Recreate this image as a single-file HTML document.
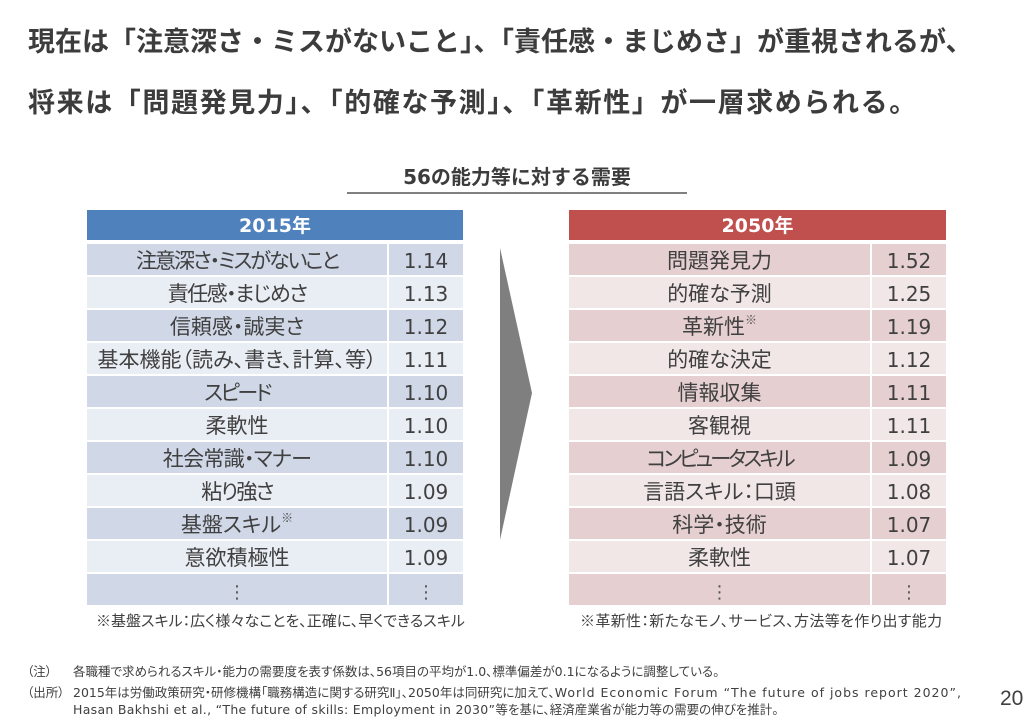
<!DOCTYPE html>
<html lang="ja">
<head>
<meta charset="utf-8">
<style>
  html,body{margin:0;padding:0;}
  body{width:1032px;height:716px;background:#fff;position:relative;overflow:hidden;
       font-family:"Liberation Sans","Noto Sans CJK JP",sans-serif;color:#404040;}
  .t{position:absolute;left:28px;font-size:27px;font-weight:bold;line-height:30px;white-space:nowrap;color:#3c3c3c;}
  .sub{position:absolute;left:347px;width:340px;top:165px;text-align:center;font-size:20px;font-weight:bold;line-height:24px;color:#3c3c3c;white-space:nowrap;}
  .sub .n{font-family:"DejaVu Sans","Noto Sans CJK JP",sans-serif;}
  .rule{position:absolute;left:347px;top:192px;width:340px;height:2px;background:#808080;}
  .tbl{position:absolute;top:210px;}
  .hd{height:30px;line-height:32px;text-align:center;color:#fff;font-weight:bold;font-size:19px;white-space:nowrap;}
  .hd .n{font-family:"DejaVu Sans",sans-serif;}
  .row{display:flex;height:31px;margin-top:2px;}
  .row.first{margin-top:4px;}
  .lab{height:31px;line-height:35px;text-align:center;font-size:21px;white-space:nowrap;
       font-feature-settings:"palt";color:#404040;overflow:hidden;}
  .val{width:74px;margin-left:2px;height:31px;line-height:35px;text-align:center;
       font-family:"DejaVu Sans",sans-serif;font-size:20px;color:#404040;}
  .L .lab{width:300px;}
  .R .lab{width:301px;}
  .L .o .lab,.L .o .val{background:#d0d8e8;}
  .L .e .lab,.L .e .val{background:#e9edf4;}
  .R .o .lab,.R .o .val{background:#e6cfd0;}
  .R .e .lab,.R .e .val{background:#f2e7e7;}
  sup{font-size:12px;vertical-align:top;line-height:12px;position:relative;top:4px;color:#555;}
  .dots{font-family:"DejaVu Sans",sans-serif;font-size:18px;color:#555;}
  .fn{position:absolute;top:612px;font-size:15px;line-height:20px;white-space:nowrap;font-feature-settings:"palt";color:#404040;}
  .note{position:absolute;font-family:"DejaVu Sans","Noto Sans CJK JP",sans-serif;font-size:12.5px;line-height:16px;white-space:nowrap;font-feature-settings:"palt";color:#404040;}
  .pg{position:absolute;left:1000px;top:687px;font-size:21px;line-height:24px;color:#404040;}
</style>
</head>
<body>

<div class="t" style="top:27px;">現在は「注意深さ・ミスがないこと」、「責任感・まじめさ」が重視されるが、</div>
<div class="t" style="top:88px;letter-spacing:1.6px;">将来は「問題発見力」、「的確な予測」、「革新性」が一層求められる。</div>

<div class="sub"><span class="n">56</span>の能力等に対する需要</div>
<div class="rule"></div>

<!-- Left table 2015 -->
<div class="tbl L" style="left:87px;width:376px;">
  <div class="hd" style="background:#4f81bd;"><span class="n">2015</span>年</div>
  <div class="row first o"><div class="lab" style="letter-spacing:-2px;">注意深さ・ミスがないこと</div><div class="val">1.14</div></div>
  <div class="row e"><div class="lab" style="letter-spacing:-1.5px;">責任感・まじめさ</div><div class="val">1.13</div></div>
  <div class="row o"><div class="lab">信頼感・誠実さ</div><div class="val">1.12</div></div>
  <div class="row e"><div class="lab">基本機能（読み、書き、計算、等）</div><div class="val">1.11</div></div>
  <div class="row o"><div class="lab" style="letter-spacing:-2.5px;">スピード</div><div class="val">1.10</div></div>
  <div class="row e"><div class="lab">柔軟性</div><div class="val">1.10</div></div>
  <div class="row o"><div class="lab" style="letter-spacing:-0.7px;">社会常識・マナー</div><div class="val">1.10</div></div>
  <div class="row e"><div class="lab" style="letter-spacing:-1.7px;">粘り強さ</div><div class="val">1.09</div></div>
  <div class="row o"><div class="lab">基盤スキル<sup>※</sup></div><div class="val">1.09</div></div>
  <div class="row e"><div class="lab">意欲積極性</div><div class="val">1.09</div></div>
  <div class="row o"><div class="lab"><span class="dots">⋮</span></div><div class="val"><span class="dots">⋮</span></div></div>
</div>

<!-- Arrow -->
<svg style="position:absolute;left:0;top:0;" width="1032" height="716" viewBox="0 0 1032 716">
  <polygon points="500,248 532,393 500,540" fill="#7f7f7f"/>
</svg>

<!-- Right table 2050 -->
<div class="tbl R" style="left:569px;width:377px;">
  <div class="hd" style="background:#c0504d;"><span class="n">2050</span>年</div>
  <div class="row first o"><div class="lab">問題発見力</div><div class="val">1.52</div></div>
  <div class="row e"><div class="lab">的確な予測</div><div class="val">1.25</div></div>
  <div class="row o"><div class="lab">革新性<sup>※</sup></div><div class="val">1.19</div></div>
  <div class="row e"><div class="lab">的確な決定</div><div class="val">1.12</div></div>
  <div class="row o"><div class="lab">情報収集</div><div class="val">1.11</div></div>
  <div class="row e"><div class="lab">客観視</div><div class="val">1.11</div></div>
  <div class="row o"><div class="lab" style="letter-spacing:-3px;">コンピュータスキル</div><div class="val">1.09</div></div>
  <div class="row e"><div class="lab">言語スキル：口頭</div><div class="val">1.08</div></div>
  <div class="row o"><div class="lab">科学・技術</div><div class="val">1.07</div></div>
  <div class="row e"><div class="lab">柔軟性</div><div class="val">1.07</div></div>
  <div class="row o"><div class="lab"><span class="dots">⋮</span></div><div class="val"><span class="dots">⋮</span></div></div>
</div>

<div class="fn" style="left:96px;">※基盤スキル：広く様々なことを、正確に、早くできるスキル</div>
<div class="fn" style="left:580px;letter-spacing:0.35px;">※革新性：新たなモノ、サービス、方法等を作り出す能力</div>

<div class="note" style="left:27px;top:664px;">（注）</div>
<div class="note" style="left:73px;top:664px;">各職種で求められるスキル・能力の需要度を表す係数は、56項目の平均が1.0、標準偏差が0.1になるように調整している。</div>
<div class="note" style="left:27px;top:685px;">（出所）</div>
<div class="note" style="left:73px;top:685px;">2015年は労働政策研究・研修機構「職務構造に関する研究Ⅱ」、2050年は同研究に加えて、<span style="letter-spacing:1px;">World Economic Forum “The future of jobs report 2020”,</span></div>
<div class="note" style="left:73px;top:702px;"><span style="letter-spacing:0.3px;">Hasan Bakhshi et al., “The future of skills: Employment in 2030”</span>等を基に、経済産業省が能力等の需要の伸びを推計。</div>

<div class="pg">20</div>

</body>
</html>
